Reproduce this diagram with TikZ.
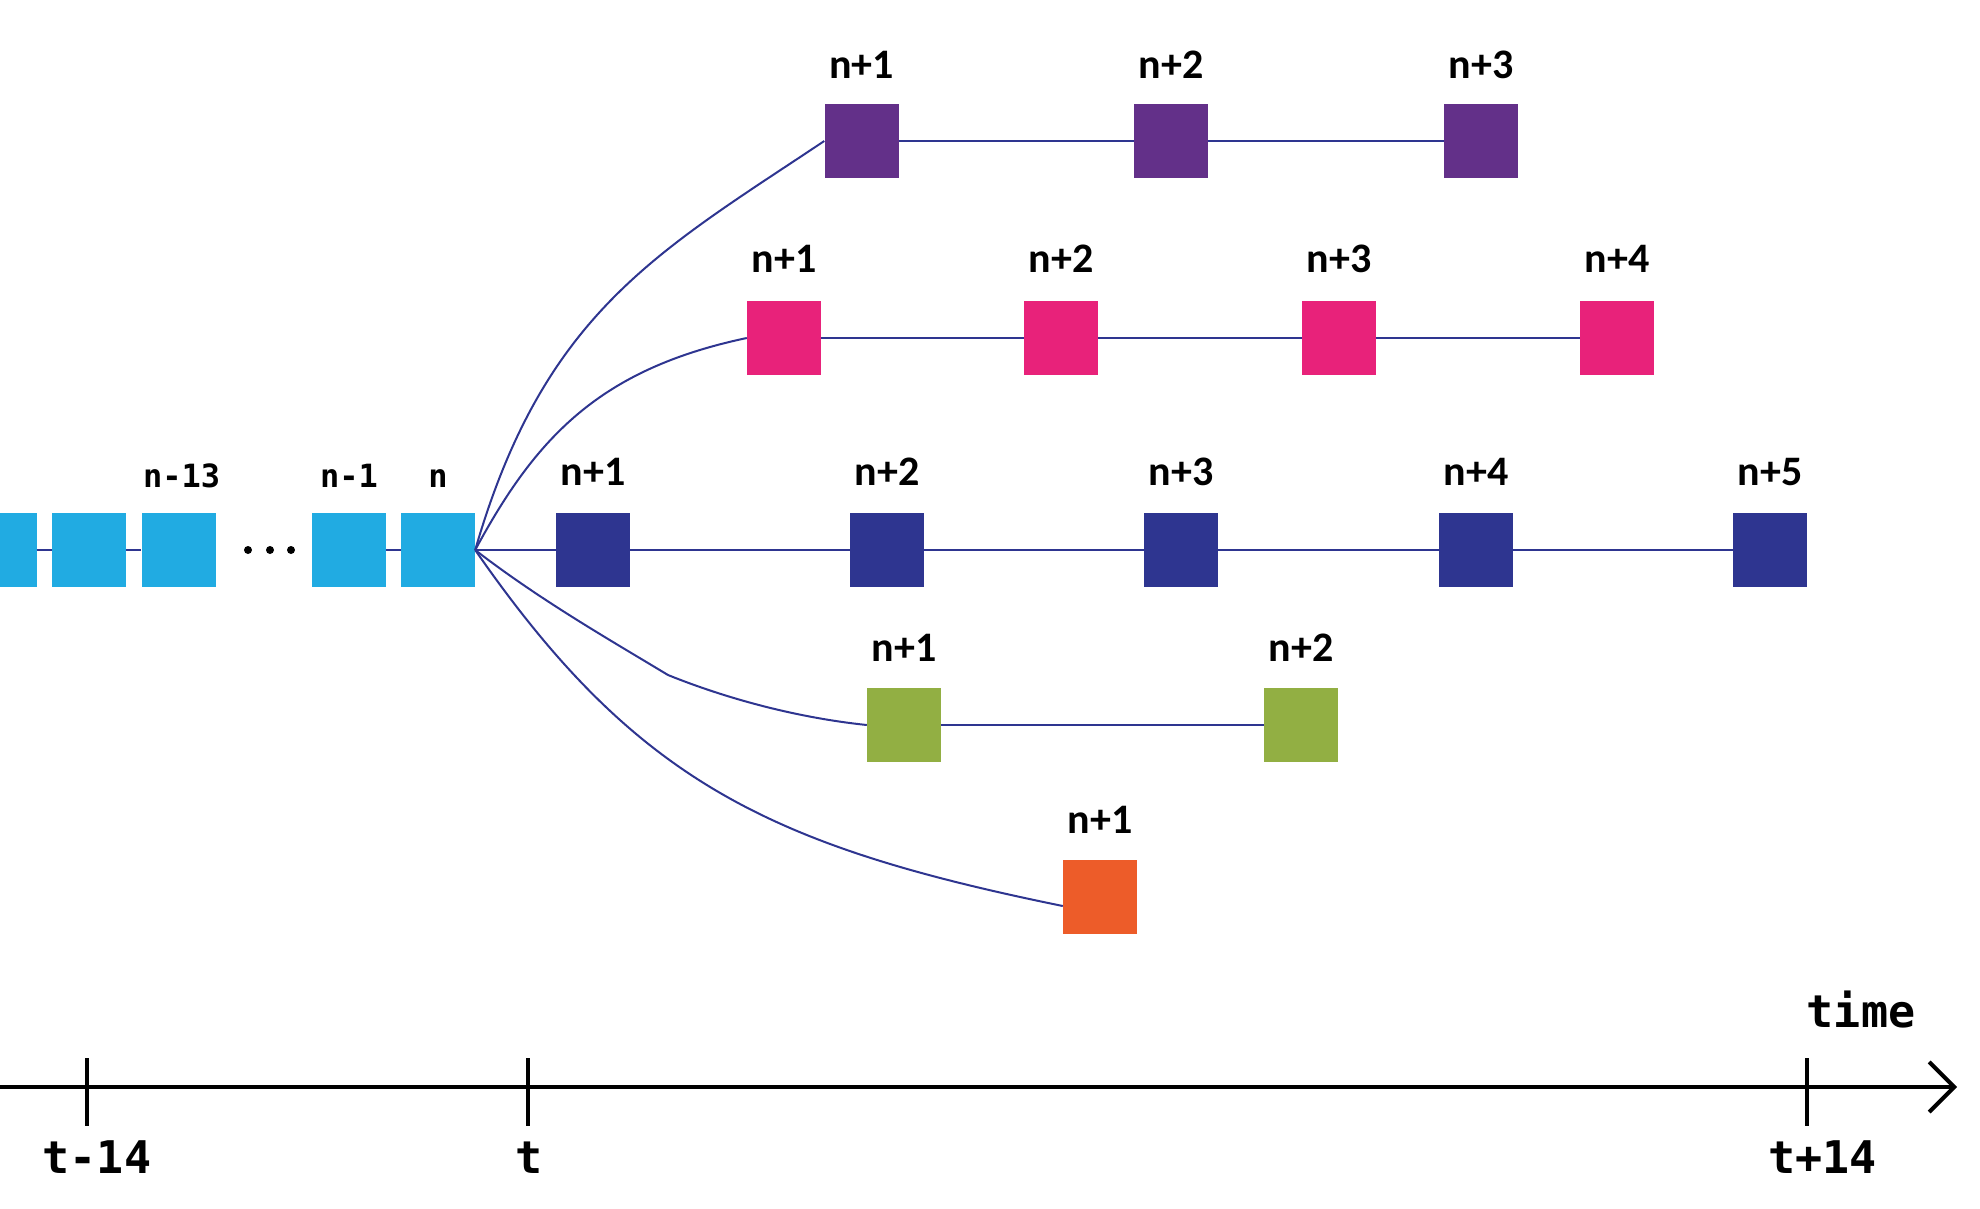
\documentclass[tikz,border=0pt]{standalone}
\usepackage{fontspec}
\newfontfamily\idxfont{Carlito}
\newfontfamily\codefont{DejaVu Sans Mono}
\usetikzlibrary{arrows.meta}

\definecolor{histblue}{RGB}{33,171,226}
\definecolor{mainnavy}{RGB}{46,53,144}
\definecolor{branchpurple}{RGB}{99,48,137}
\definecolor{branchpink}{RGB}{232,34,122}
\definecolor{branchgreen}{RGB}{146,175,67}
\definecolor{branchorange}{RGB}{237,92,41}
\definecolor{linkc}{RGB}{46,53,144}

\begin{document}
\begin{tikzpicture}[x=1pt,y=-1pt,
  box/.style={rectangle, inner sep=0pt, minimum width=74pt, minimum height=74pt, draw=none, fill=#1},
  link/.style={draw=linkc, line width=2pt},
  idx/.style={font=\idxfont\bfseries\fontsize{42}{42}\selectfont, anchor=base, inner sep=0pt},
  hist/.style={font=\codefont\bfseries\fontsize{32}{32}\selectfont, anchor=base, inner sep=0pt},
  axislbl/.style={font=\codefont\bfseries\fontsize{45}{45}\selectfont, anchor=base, inner sep=0pt},
  axisline/.style={line width=4pt, draw=black},
]
\useasboundingbox (0,0) rectangle (1980,1208);
\begin{scope}
\clip (0,0) rectangle (1980,1208);

% history blocks
\node[box=histblue] (h0) at (-0.5,550) {};
\node[box=histblue] (h1) at (89,550) {};
\node[box=histblue] (h2) at (178.6,550) {};
\node[box=histblue] (h3) at (349,550) {};
\node[box=histblue] (h4) at (438,550) {};
\node[hist] (lh2) at ([xshift=3pt,yshift=25pt]h2.north) {n-13};
\node[hist] (lh3) at ([yshift=25pt]h3.north) {n-1};
\node[hist] (lh4) at ([yshift=25pt]h4.north) {n};
\fill (248,550) circle[radius=4pt];
\fill (270,550) circle[radius=4pt];
\fill (291,550) circle[radius=4pt];
\draw[link] (h0.east) -- (h1.west);
\draw[link] (h1.east) -- (h2.west);
\draw[link] (h3.east) -- (h4.west);

% main branch
\node[box=mainnavy] (m1) at (593,550) {};
\node[box=mainnavy] (m2) at (887,550) {};
\node[box=mainnavy] (m3) at (1181,550) {};
\node[box=mainnavy] (m4) at (1476,550) {};
\node[box=mainnavy] (m5) at (1770,550) {};
\foreach \i/\t in {1/n+1,2/n+2,3/n+3,4/n+4,5/n+5}
  \node[idx] (lm\i) at ([yshift=27pt]m\i.north) {\t};
\draw[link] (h4.east) -- (m1.west);
\draw[link] (m1.east) -- (m2.west);
\draw[link] (m2.east) -- (m3.west);
\draw[link] (m3.east) -- (m4.west);
\draw[link] (m4.east) -- (m5.west);

% purple branch
\node[box=branchpurple] (p1) at (861.5,141) {};
\node[box=branchpurple] (p2) at (1171,141) {};
\node[box=branchpurple] (p3) at (1481,141) {};
\foreach \i/\t in {1/n+1,2/n+2,3/n+3}
  \node[idx] (lp\i) at ([yshift=25pt]p\i.north) {\t};
\draw[link] (h4.east) .. controls (544,312) and (658,252) .. (p1.west);
\draw[link] (p1.east) -- (p2.west);
\draw[link] (p2.east) -- (p3.west);

% pink branch
\node[box=branchpink] (k1) at (784,338) {};
\node[box=branchpink] (k2) at (1061,338) {};
\node[box=branchpink] (k3) at (1339,338) {};
\node[box=branchpink] (k4) at (1617,338) {};
\foreach \i/\t in {1/n+1,2/n+2,3/n+3,4/n+4}
  \node[idx] (lk\i) at ([yshift=28pt]k\i.north) {\t};
\draw[link] (h4.east) .. controls (536,437) and (600,369) .. (k1.west);
\draw[link] (k1.east) -- (k2.west);
\draw[link] (k2.east) -- (k3.west);
\draw[link] (k3.east) -- (k4.west);

% green branch
\node[box=branchgreen] (g1) at (904,725) {};
\node[box=branchgreen] (g2) at (1301,725) {};
\foreach \i/\t in {1/n+1,2/n+2}
  \node[idx] (lg\i) at ([yshift=26pt]g\i.north) {\t};
\coordinate (gbend) at (668,675);
\draw[link] (h4.east) .. controls (540,600) and (610,640) .. (gbend)
  .. controls (730,700) and (800,718) .. (g1.west);
\draw[link] (g1.east) -- (g2.west);

% orange branch
\node[box=branchorange] (o1) at (1100,897) {};
\node[idx] (lo1) at ([yshift=26pt]o1.north) {n+1};
\draw[link] (h4.east) .. controls (635.6,781.4) and (769,846) .. ([yshift=-9pt]o1.west);

% time axis
\coordinate (ax0) at (0,1087);
\coordinate (ax1) at (1957,1087);
\draw[axisline, -{Straight Barb[length=25pt,width=50pt]}] (ax0) -- (ax1);
\coordinate (tk1) at (87,1087);
\coordinate (tk2) at (528,1087);
\coordinate (tk3) at (1807,1087);
\foreach \k in {tk1,tk2,tk3}
  \draw[axisline] ([yshift=29pt]\k) -- ([yshift=-39pt]\k);
\node[axislbl] (lt1) at (97,1173) {t-14};
\node[axislbl] (lt2) at (529,1173) {t};
\node[axislbl] (lt3) at (1822.5,1173) {t+14};
\node[axislbl] (ltime) at (1861,1027) {time};
\end{scope}
\end{tikzpicture}
\end{document}
